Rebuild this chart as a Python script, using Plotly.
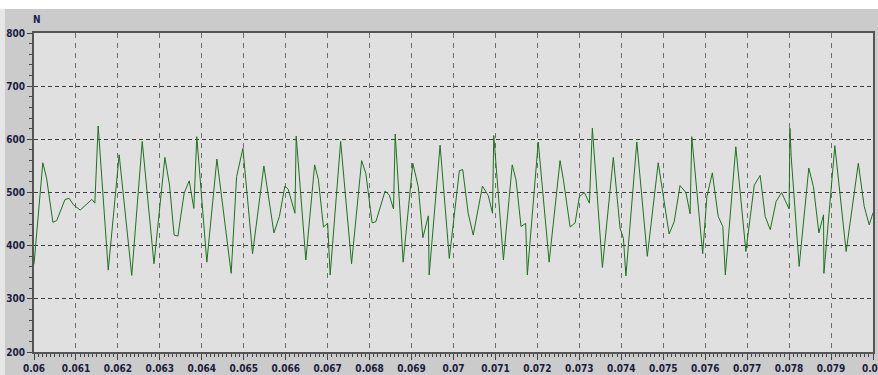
import plotly.graph_objects as go

# time (s) of each vertex of the recorded force trace
t = [0.06000, 0.06021, 0.06030, 0.06045, 0.06054, 0.06074, 0.06084, 0.06094, 0.06110, 0.06138,
     0.06145, 0.06153, 0.06177, 0.06203, 0.06233, 0.06258, 0.06286, 0.06312, 0.06323, 0.06334,
     0.06343, 0.06358, 0.06370, 0.06381, 0.06388, 0.06412, 0.06436, 0.06470, 0.06483, 0.06498,
     0.06521, 0.06548, 0.06572, 0.06585, 0.06598, 0.06606, 0.06622, 0.06625, 0.06648, 0.06669,
     0.06678, 0.06690, 0.06700, 0.06706, 0.06731, 0.06757, 0.06781, 0.06791, 0.06806, 0.06815,
     0.06837, 0.06847, 0.06857, 0.06861, 0.06880, 0.06903, 0.06916, 0.06927, 0.06940, 0.06942,
     0.06968, 0.06990, 0.07014, 0.07022, 0.07035, 0.07047, 0.07069, 0.07083, 0.07093, 0.07096,
     0.07119, 0.07140, 0.07149, 0.07161, 0.07172, 0.07176, 0.07202, 0.07228, 0.07254, 0.07262,
     0.07278, 0.07290, 0.07300, 0.07312, 0.07324, 0.07331, 0.07355, 0.07381, 0.07397, 0.07405,
     0.07411, 0.07437, 0.07462, 0.07488, 0.07514, 0.07526, 0.07540, 0.07554, 0.07564, 0.07568,
     0.07594, 0.07604, 0.07617, 0.07631, 0.07642, 0.07648, 0.07673, 0.07697, 0.07717, 0.07731,
     0.07743, 0.07755, 0.07769, 0.07782, 0.07800, 0.07802, 0.07805, 0.07824, 0.07847, 0.07858,
     0.07871, 0.07882, 0.07883, 0.07909, 0.07936, 0.07965, 0.07979, 0.07991, 0.08000]

# force (N)
force = [365, 556, 527, 444, 447, 487, 489, 477, 467, 487,
         480, 625, 354, 571, 344, 596, 366, 566, 514, 420,
         418, 499, 522, 470, 605, 369, 563, 348, 530, 583,
         385, 550, 424, 455, 512, 506, 461, 606, 373, 552,
         524, 435, 442, 345, 596, 366, 560, 536, 443, 445,
         503, 495, 469, 610, 369, 555, 511, 415, 456, 345,
         589, 376, 541, 543, 461, 420, 512, 494, 461, 607,
         373, 552, 524, 436, 442, 345, 595, 369, 560, 524,
         435, 443, 492, 500, 480, 621, 359, 566, 433, 414,
         343, 595, 380, 556, 422, 445, 513, 500, 460, 605,
         385, 492, 537, 455, 436, 345, 586, 389, 514, 532,
         455, 430, 483, 500, 469, 621, 567, 361, 546, 511,
         424, 458, 348, 588, 389, 555, 474, 439, 462]

x_ticks = [0.06, 0.061, 0.062, 0.063, 0.064, 0.065, 0.066, 0.067, 0.068, 0.069, 0.07,
           0.071, 0.072, 0.073, 0.074, 0.075, 0.076, 0.077, 0.078, 0.079, 0.08]
x_labels = ["0.06", "0.061", "0.062", "0.063", "0.064", "0.065", "0.066", "0.067", "0.068",
            "0.069", "0.07", "0.071", "0.072", "0.073", "0.074", "0.075", "0.076", "0.077",
            "0.078", "0.079", "0.08"]
y_ticks = [200, 300, 400, 500, 600, 700, 800]
y_labels = ["200", "300", "400", "500", "600", "700", "800"]
unit_label = "N"

FONT = "Liberation Sans Narrow, Arial Narrow, DejaVu Sans Condensed, sans-serif"
tickfont = dict(family=FONT, size=10, color="#1c1c3c", weight="bold")

fig = go.Figure()
fig.add_trace(go.Scatter(x=t, y=force, mode="lines",
                         line=dict(color="#1d721d", width=1), hoverinfo="x+y"))

fig.update_layout(
    width=878, height=375,
    margin=dict(l=34, r=5, t=33, b=23),
    paper_bgcolor="#cbcbcb",
    plot_bgcolor="#e0e0e0",
    showlegend=False,
    xaxis=dict(range=[0.06, 0.08], tickvals=x_ticks, ticktext=x_labels,
               tickfont=tickfont, ticks="outside", ticklen=6, tickcolor="#444",
               ticklabeloverflow="allow", automargin=False,
               showline=True, linecolor="#555", linewidth=2, mirror=True,
               showgrid=True, gridcolor="#6e6e6e", gridwidth=1, griddash="5px,5px",
               zeroline=False,
               minor=dict(dtick=0.0001, tick0=0.06, ticks="outside", ticklen=3,
                          tickcolor="#444", showgrid=False)),
    yaxis=dict(range=[200, 800], tickvals=y_ticks, ticktext=y_labels,
               tickfont=tickfont, ticks="outside", ticklen=5, tickcolor="#444",
               ticklabeloverflow="allow", automargin=False,
               showline=True, linecolor="#555", linewidth=2, mirror=True,
               showgrid=True, gridcolor="#3c3c3c", gridwidth=1, griddash="4px,3px",
               zeroline=False,
               minor=dict(dtick=20, tick0=200, ticks="outside", ticklen=3,
                          tickcolor="#444", showgrid=False)),
    shapes=[
        dict(type="rect", xref="paper", yref="paper", x0=-0.1, x1=1.1,
             y0=1.0752, y1=1.3, fillcolor="white", line=dict(width=0), layer="above"),
        dict(type="rect", xref="paper", yref="paper", x0=-0.1, x1=-0.0346,
             y0=-0.2, y1=1.0752, fillcolor="#e6e6e6", line=dict(width=0), layer="above"),
    ],
    annotations=[
        dict(text=unit_label, xref="paper", yref="paper", x=0.003, y=1.041,
             xanchor="center", yanchor="middle", showarrow=False,
             font=dict(family=FONT, size=10, color="#1c1c4c", weight="bold")),
    ],
)

fig.write_html("out.html")
